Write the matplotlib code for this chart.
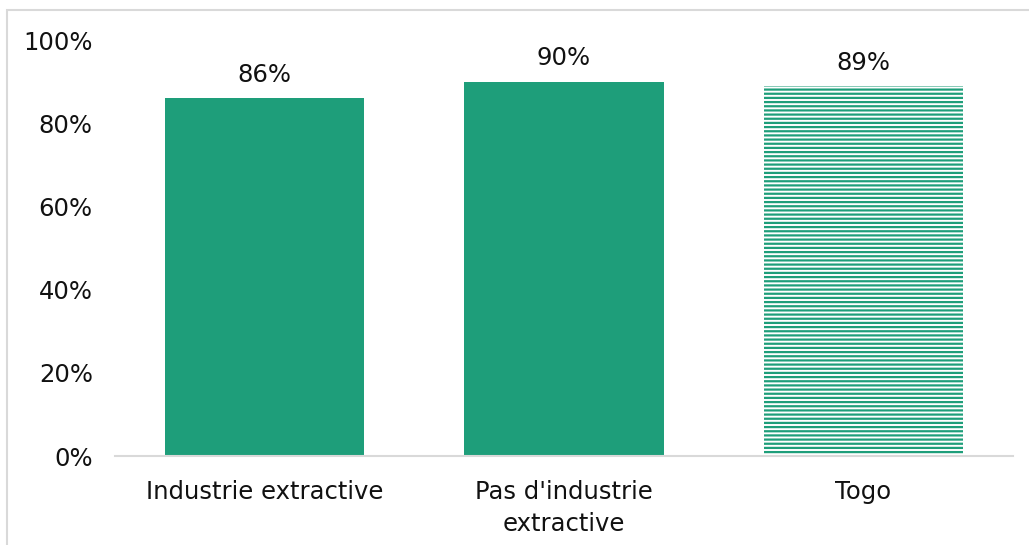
import matplotlib.pyplot as plt
from matplotlib.patches import Rectangle

categories = ["Industrie extractive", "Pas d'industrie\nextractive", "Togo"]
values = [86, 90, 89]
labels = ["86%", "90%", "89%"]
yticks = [0, 20, 40, 60, 80, 100]

green = "#1E9E7A"
plt.rcParams['font.family'] = ['DejaVu Sans']
plt.rcParams['hatch.linewidth'] = 1.6
plt.rcParams['hatch.color'] = green

fig = plt.figure(figsize=(10.29, 5.45), dpi=100)
ax = fig.add_axes([115 / 1029, 1 - 456 / 545, 898 / 1029, 416 / 545])

x = range(len(categories))
bars = ax.bar(x, values, width=0.667, color=green)
bars[2].set_facecolor("white")
bars[2].set_edgecolor(green)
bars[2].set_linewidth(0)
bars[2].set_hatch("----")

fs = 17.5
for i, v in enumerate(values):
    ax.annotate(labels[i], (i, v), xytext=(0, 8), textcoords="offset points",
                ha="center", va="bottom", fontsize=fs, color="#111111")

ax.set_xlim(-0.5, 2.5)
ax.set_ylim(0, 100)
ax.set_yticks(yticks)
ax.set_yticklabels([f"{t}%" for t in yticks], fontsize=fs, color="#111111")
ax.set_xticks(list(x))
ax.set_xticklabels(categories, fontsize=fs, color="#111111", linespacing=1.45)
ax.tick_params(length=0)
ax.tick_params(axis="y", pad=16)
ax.tick_params(axis="x", pad=17)
for s in ["top", "right", "left"]:
    ax.spines[s].set_visible(False)
ax.spines["bottom"].set_color("#d9d9d9")
ax.spines["bottom"].set_linewidth(1.5)

# outer chart border
fig.patches.append(Rectangle((7 / 1029, -0.01), 1.1, 1 - 10 / 545 + 0.01, transform=fig.transFigure,
                             fill=False, edgecolor="#d9d9d9", linewidth=1.5))

fig.savefig("out.png", dpi=100)
